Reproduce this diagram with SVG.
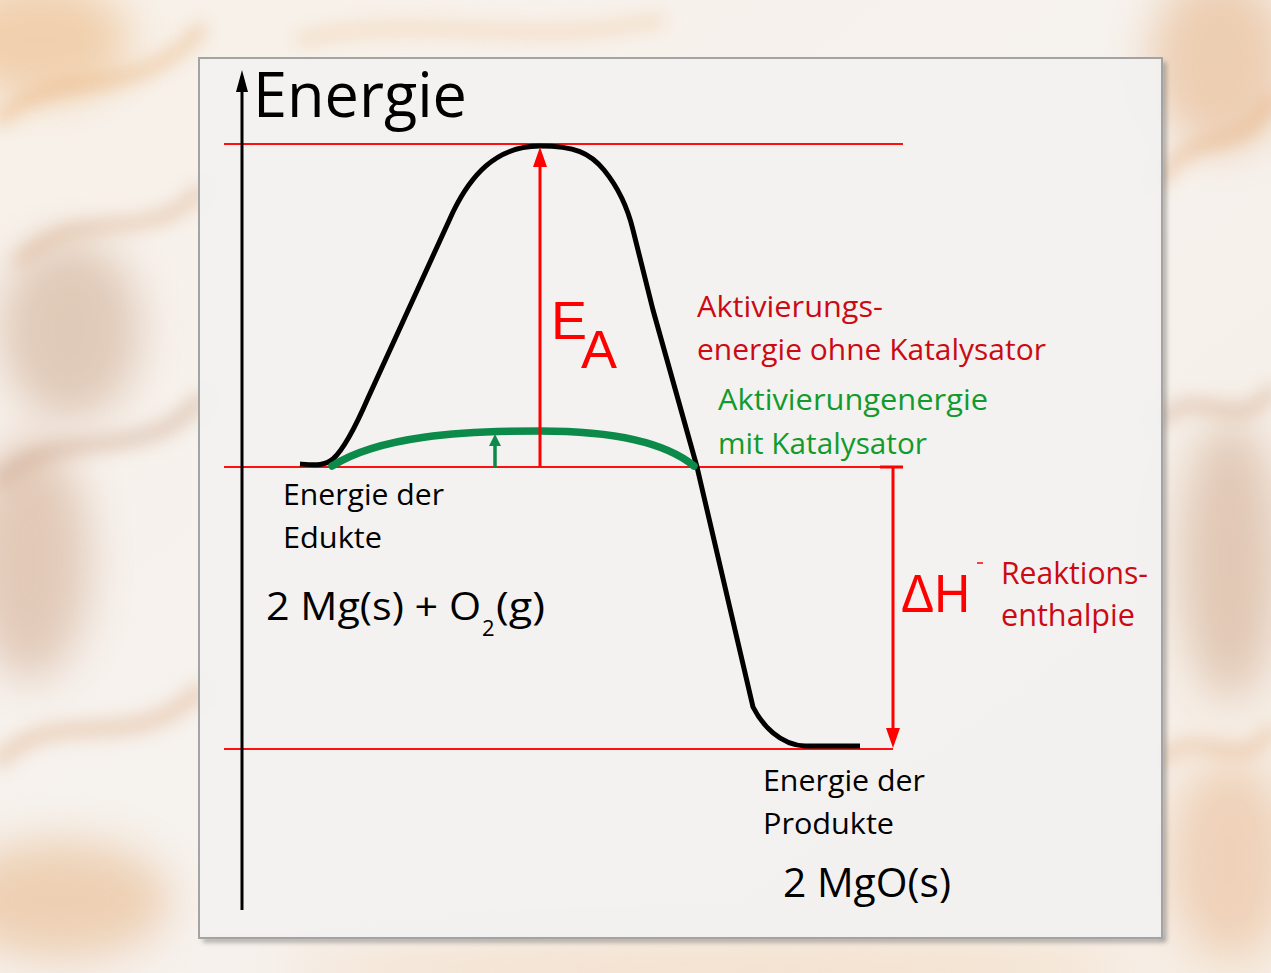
<svg xmlns="http://www.w3.org/2000/svg" width="1271" height="973" viewBox="0 0 1271 973">
  <defs>
    <style>
      .lvl { stroke: #ff1010; stroke-width: 2; fill: none; }
      .axis { stroke: #000; stroke-width: 3; fill: none; }
      .curve { stroke: #000; stroke-width: 5; fill: none; stroke-linejoin: round; stroke-linecap: butt; }
      .cat { stroke: #0b8a4a; stroke-width: 7.5; fill: none; stroke-linecap: round; }
      .rarrow { stroke: #ff0000; stroke-width: 3; fill: none; }
      .garrow { stroke: #0b8a4a; stroke-width: 3.5; fill: none; }
      .t { font-family: "Open Sans", "Noto Sans", "DejaVu Sans", sans-serif; }
      .blk { fill: #000; }
      .red { fill: #cc0a14; }
      .grn { fill: #129a2c; }
      .big { font-family: "Liberation Sans", Arial, sans-serif; fill: #ff0000; }
      .wisp { fill: none; stroke-linecap: round; }
    </style>
    <marker id="headRed" viewBox="0 0 20 14" refX="12" refY="7" markerWidth="20" markerHeight="14" markerUnits="userSpaceOnUse" orient="auto">
      <path d="M0,0 L20,7 L0,14 z" fill="#ff0000"/>
    </marker>
    <marker id="headGreen" viewBox="0 0 12 12" refX="4" refY="6" markerWidth="12" markerHeight="12" markerUnits="userSpaceOnUse" orient="auto">
      <path d="M0,0 L12,6 L0,12 z" fill="#0b8a4a"/>
    </marker>
    <marker id="headBlack" viewBox="0 0 22 12" refX="12" refY="6" markerWidth="22" markerHeight="12" markerUnits="userSpaceOnUse" orient="auto">
      <path d="M0,0 L22,6 L0,12 z" fill="#000"/>
    </marker>
    <filter id="blur" x="-50%" y="-50%" width="200%" height="200%">
      <feGaussianBlur stdDeviation="22"/>
    </filter>
    <filter id="blurS" x="-50%" y="-50%" width="200%" height="200%">
      <feGaussianBlur stdDeviation="9"/>
    </filter>
    <filter id="shadow" x="-5%" y="-5%" width="110%" height="110%">
      <feGaussianBlur stdDeviation="2.5"/>
    </filter>
    <linearGradient id="bgGrad" x1="0" y1="0" x2="1" y2="1">
      <stop offset="0" stop-color="#f8f1e9"/>
      <stop offset="0.5" stop-color="#f6f2ee"/>
      <stop offset="1" stop-color="#f6ede3"/>
    </linearGradient>
  </defs>

  <g id="background">
    <rect x="0" y="0" width="1271" height="973" fill="url(#bgGrad)"/>
    <g filter="url(#blur)" opacity="0.45">
      <ellipse cx="40" cy="40" rx="90" ry="60" fill="#e8a866"/>
      <ellipse cx="70" cy="330" rx="70" ry="90" fill="#c49a7c"/>
      <ellipse cx="30" cy="560" rx="60" ry="120" fill="#c99a7a"/>
      <ellipse cx="60" cy="900" rx="110" ry="60" fill="#e3a870"/>
      <ellipse cx="1220" cy="60" rx="70" ry="90" fill="#e2a36c"/>
      <ellipse cx="1230" cy="560" rx="50" ry="140" fill="#c89a78"/>
      <ellipse cx="1230" cy="860" rx="60" ry="100" fill="#e6b084"/>
      <ellipse cx="700" cy="968" rx="420" ry="20" fill="#f0c8a0"/>
    </g>
    <g filter="url(#blurS)" opacity="0.5" class="wisp">
      <path d="M0,120 C60,60 130,110 200,30" stroke="#e9ad72" stroke-width="14"/>
      <path d="M20,260 C80,200 150,250 200,190" stroke="#d6a07a" stroke-width="12"/>
      <path d="M0,480 C60,420 140,470 200,400" stroke="#c79c80" stroke-width="14"/>
      <path d="M0,760 C60,700 130,760 200,690" stroke="#dba67a" stroke-width="14"/>
      <path d="M300,40 C420,10 520,50 660,20" stroke="#efc498" stroke-width="12"/>
      <path d="M1160,180 C1200,120 1240,160 1271,100" stroke="#e5aa74" stroke-width="14"/>
      <path d="M1160,420 C1200,380 1240,440 1271,390" stroke="#cf9f80" stroke-width="12"/>
      <path d="M1160,760 C1200,720 1240,780 1271,730" stroke="#e2ad80" stroke-width="12"/>
    </g>
  </g>

  <g id="panel">
    <path d="M1164,62 L1164,940 L203,940" fill="none" stroke="#6e6e6e" stroke-width="4" opacity="0.7" filter="url(#shadow)"/>
    <rect x="199" y="58" width="963" height="880" fill="#f2f1f0" fill-opacity="0.94" stroke="#a3a3a3" stroke-width="2"/>
  </g>

  <g id="levels">
    <line class="lvl" x1="224" y1="144" x2="903" y2="144"/>
    <line class="lvl" x1="224" y1="467" x2="903" y2="467"/>
    <line class="lvl" x1="224" y1="749" x2="893" y2="749"/>
  </g>

  <g id="axis">
    <line class="axis" x1="242" y1="910" x2="242" y2="80" marker-end="url(#headBlack)"/>
    <text class="t blk" x="253" y="117" font-size="62" textLength="214" lengthAdjust="spacingAndGlyphs">Energie</text>
  </g>

  <g id="curves">
    <path id="uncatalysed" class="curve" d="M300,464 C315,465 325,466 333,459 C343,450 355,428 368,398 L453,212 C470,177 495,146 540,146 C575,146 590,153 604,170 C617,186 627,205 633,230 L653,310 L697,467 L753,707 C762,725 780,745 805,746 L860,746"/>
    <path id="catalysed" class="cat" d="M332,466 C380,436 460,431 540,431 C600,431 660,438 694,466"/>
  </g>

  <g id="connectors">
    <line id="ea-arrow" class="rarrow" x1="540" y1="467" x2="540" y2="155" marker-end="url(#headRed)"/>
    <line id="cat-arrow" class="garrow" x1="495" y1="467" x2="495" y2="442" marker-end="url(#headGreen)"/>
    <line id="dh-arrow" class="rarrow" x1="893" y1="467" x2="893" y2="740" marker-end="url(#headRed)"/>
    <line class="rarrow" x1="880" y1="467" x2="903" y2="467"/>
  </g>

  <g id="label-ea">
    <text class="big" x="551" y="339" font-size="54">E</text>
    <text class="big" x="581" y="368" font-size="54">A</text>
  </g>

  <g id="label-ohne">
    <text class="t red" x="697" y="317" font-size="30" textLength="186" lengthAdjust="spacingAndGlyphs">Aktivierungs-</text>
    <text class="t red" x="697" y="360" font-size="30" textLength="349" lengthAdjust="spacingAndGlyphs">energie ohne Katalysator</text>
  </g>

  <g id="label-mit">
    <text class="t grn" x="718" y="410" font-size="30" textLength="270" lengthAdjust="spacingAndGlyphs">Aktivierungenergie</text>
    <text class="t grn" x="718" y="454" font-size="30" textLength="209" lengthAdjust="spacingAndGlyphs">mit Katalysator</text>
  </g>

  <g id="label-dh">
    <text class="big" x="901" y="612" font-size="54" textLength="69" lengthAdjust="spacingAndGlyphs">ΔH</text>
    <line x1="977" y1="563" x2="983" y2="563" stroke="#ff0000" stroke-width="1.5"/>
    <text class="t red" x="1001" y="584" font-size="31" textLength="147" lengthAdjust="spacingAndGlyphs">Reaktions-</text>
    <text class="t red" x="1001" y="626" font-size="31" textLength="134" lengthAdjust="spacingAndGlyphs">enthalpie</text>
  </g>

  <g id="label-edukte">
    <text class="t blk" x="283" y="505" font-size="30" textLength="161" lengthAdjust="spacingAndGlyphs">Energie der</text>
    <text class="t blk" x="283" y="548" font-size="30" textLength="99" lengthAdjust="spacingAndGlyphs">Edukte</text>
    <text class="t blk" x="266" y="620" font-size="38" textLength="215" lengthAdjust="spacingAndGlyphs">2 Mg(s) + O</text>
    <text class="t blk" x="482" y="636" font-size="22">2</text>
    <text class="t blk" x="496" y="620" font-size="38" textLength="49" lengthAdjust="spacingAndGlyphs">(g)</text>
  </g>

  <g id="label-produkte">
    <text class="t blk" x="763" y="791" font-size="30" textLength="162" lengthAdjust="spacingAndGlyphs">Energie der</text>
    <text class="t blk" x="763" y="834" font-size="30" textLength="131" lengthAdjust="spacingAndGlyphs">Produkte</text>
    <text class="t blk" x="783" y="897" font-size="40" textLength="168" lengthAdjust="spacingAndGlyphs">2 MgO(s)</text>
  </g>
</svg>
